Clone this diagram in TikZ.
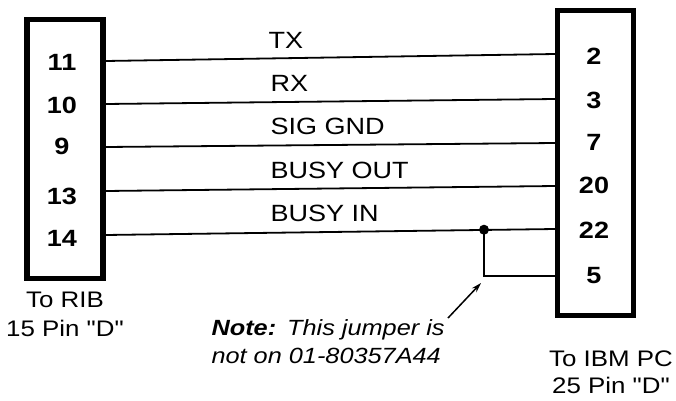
\documentclass[tikz,border=0pt]{standalone}
\usepackage{fontspec}
\newfontfamily\lsans{Liberation Sans}[FakeStretch=1.15]
\usetikzlibrary{arrows.meta}
\begin{document}
\begin{tikzpicture}[x=1pt,y=-1pt,
  conn/.style={draw, line width=5.5pt, minimum width=76pt, minimum height=#1, inner sep=0pt},
  wire/.style={line width=1.8pt},
  pin/.style={font=\lsans\fontsize{23.5}{23.5}\selectfont\bfseries, anchor=base},
  sig/.style={font=\lsans\fontsize{23.5}{23.5}\selectfont, anchor=base west},
  captext/.style={font=\lsans\fontsize{22.5}{22.5}\selectfont, anchor=base},
  notetext/.style={font=\lsans\fontsize{22}{22}\selectfont\itshape, anchor=base west}]
\useasboundingbox (0,0) rectangle (676,400);
% connectors
\node[conn=259pt] (L) at (65,149) {};
\node[conn=305pt] (R) at (595.5,163) {};
% pin numbers
\node[pin] (l11) at (62,70) {11};
\node[pin] (l10) at (62,113) {10};
\node[pin] (l9)  at (62,154) {9};
\node[pin] (l13) at (62,204) {13};
\node[pin] (l14) at (62,246) {14};
\node[pin] (r2)  at (594,64) {2};
\node[pin] (r3)  at (594,108) {3};
\node[pin] (r7)  at (594,150) {7};
\node[pin] (r20) at (594,193) {20};
\node[pin] (r22) at (594,238) {22};
\node[pin] (r5)  at (594,283) {5};
% wire end points
\coordinate (a1) at (105,61);  \coordinate (b1) at (555,54);
\coordinate (a2) at (105,104); \coordinate (b2) at (555,99);
\coordinate (a3) at (105,147); \coordinate (b3) at (555,143);
\coordinate (a4) at (105,191); \coordinate (b4) at (555,186);
\coordinate (a5) at (105,235); \coordinate (b5) at (555,229);
\coordinate (b6) at (555,276);
\coordinate (j) at (484,229.7);
\draw[wire] (a1) -- (b1);
\draw[wire] (a2) -- (b2);
\draw[wire] (a3) -- (b3);
\draw[wire] (a4) -- (b4);
\draw[wire] (a5) -- (b5);
\draw[wire] (j) |- (b6);
\fill (j) circle (5pt);
% signal labels
\node[sig] (tx) at (265,48) {TX};
\node[sig] (rx) at (267,91) {RX};
\node[sig] (sg) at (267,134) {SIG GND};
\node[sig] (bo) at (267,178) {BUSY OUT};
\node[sig] (bi) at (267,221) {BUSY IN};
% captions
\node[captext] (c1) at (65,307) {To RIB};
\node[captext] (c2) at (65,336) {15 Pin "D"};
\node[captext] (c3) at (611,366) {To IBM PC};
\node[captext] (c4) at (611,393) {25 Pin "D"};
\node[notetext] (n1) at (208,335) {\textbf{Note:}\enspace This jumper is};
\node[notetext] (n2) at (208,363) {not on 01-80357A44};
\coordinate (ah) at (481,283);
\coordinate (at) at (448,318);
\draw[line width=1.5pt, -{Stealth[length=10pt,width=6pt]}] (at) -- (ah);
\end{tikzpicture}
\end{document}
